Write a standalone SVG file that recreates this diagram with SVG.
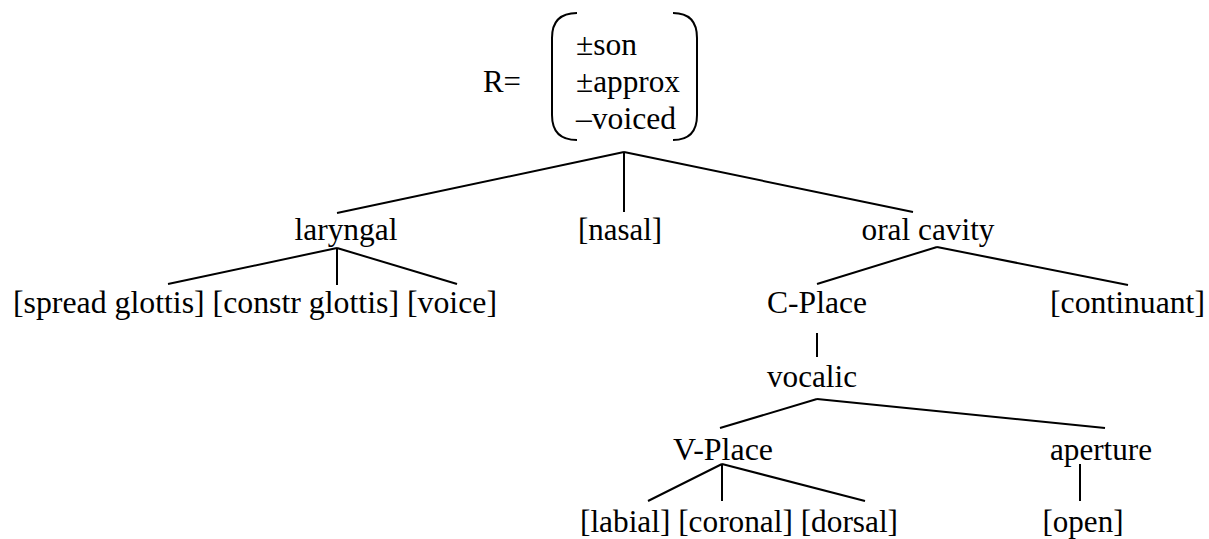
<svg xmlns="http://www.w3.org/2000/svg" width="1209" height="539" viewBox="0 0 1209 539">
<style>
.t{font-size:31px;fill:#000}
.m{text-anchor:middle}
.e{text-anchor:end}
.c line,.br{stroke:#000;stroke-width:2;fill:none}
</style>
<rect width="1209" height="539" fill="#fff"/>
<g font-family="'Liberation Serif', 'DejaVu Serif', 'Noto Serif', 'Times New Roman', serif" class="t">
<g id="root">
<text x="483" y="92" textLength="38" lengthAdjust="spacingAndGlyphs">R=</text>
<path class="br" d="M577,13 Q552,13 552,38 L552,115 Q552,140 577,140"/>
<path class="br" d="M673,13 Q697,13 697,38 L697,115 Q697,140 673,140"/>
<text x="576" y="55" textLength="61" lengthAdjust="spacingAndGlyphs">±son</text>
<text x="576" y="92" textLength="104" lengthAdjust="spacingAndGlyphs">±approx</text>
<text x="576" y="129" textLength="100" lengthAdjust="spacingAndGlyphs">–voiced</text>
</g>
<g id="laryngal"><text class="m" x="346" y="240" textLength="103" lengthAdjust="spacingAndGlyphs">laryngal</text></g>
<g id="nasal"><text class="m" x="620" y="240" textLength="84" lengthAdjust="spacingAndGlyphs">[nasal]</text></g>
<g id="oral-cavity"><text class="m" x="928" y="240" textLength="133" lengthAdjust="spacingAndGlyphs">oral cavity</text></g>
<g id="laryngeal-features"><text x="13" y="313" textLength="484" lengthAdjust="spacingAndGlyphs">[spread glottis] [constr glottis] [voice]</text></g>
<g id="c-place"><text class="m" x="817" y="313" textLength="100" lengthAdjust="spacingAndGlyphs">C-Place</text></g>
<g id="continuant"><text class="e" x="1205" y="313" textLength="155" lengthAdjust="spacingAndGlyphs">[continuant]</text></g>
<g id="vocalic"><text class="m" x="812" y="387" textLength="90" lengthAdjust="spacingAndGlyphs">vocalic</text></g>
<g id="v-place"><text class="m" x="723" y="460" textLength="100" lengthAdjust="spacingAndGlyphs">V-Place</text></g>
<g id="aperture"><text class="m" x="1101" y="460" textLength="102" lengthAdjust="spacingAndGlyphs">aperture</text></g>
<g id="place-features"><text x="580" y="532" textLength="318" lengthAdjust="spacingAndGlyphs">[labial] [coronal] [dorsal]</text></g>
<g id="open"><text class="m" x="1083" y="532" textLength="81" lengthAdjust="spacingAndGlyphs">[open]</text></g>
</g>
<g id="connectors" class="c">
<line x1="624" y1="152" x2="337" y2="213"/>
<line x1="624" y1="152" x2="624" y2="212"/>
<line x1="624" y1="152" x2="913" y2="212"/>
<line x1="337" y1="248" x2="168" y2="284"/>
<line x1="337" y1="248" x2="337" y2="285"/>
<line x1="337" y1="248" x2="457" y2="284"/>
<line x1="937" y1="247" x2="817" y2="284"/>
<line x1="937" y1="247" x2="1128" y2="285"/>
<line x1="817" y1="333" x2="817" y2="357"/>
<line x1="817" y1="399" x2="720" y2="428"/>
<line x1="817" y1="399" x2="1105" y2="428"/>
<line x1="722" y1="464" x2="648" y2="501"/>
<line x1="722" y1="464" x2="722" y2="501"/>
<line x1="722" y1="464" x2="865" y2="501"/>
<line x1="1080" y1="464" x2="1080" y2="501"/>
</g>
</svg>
